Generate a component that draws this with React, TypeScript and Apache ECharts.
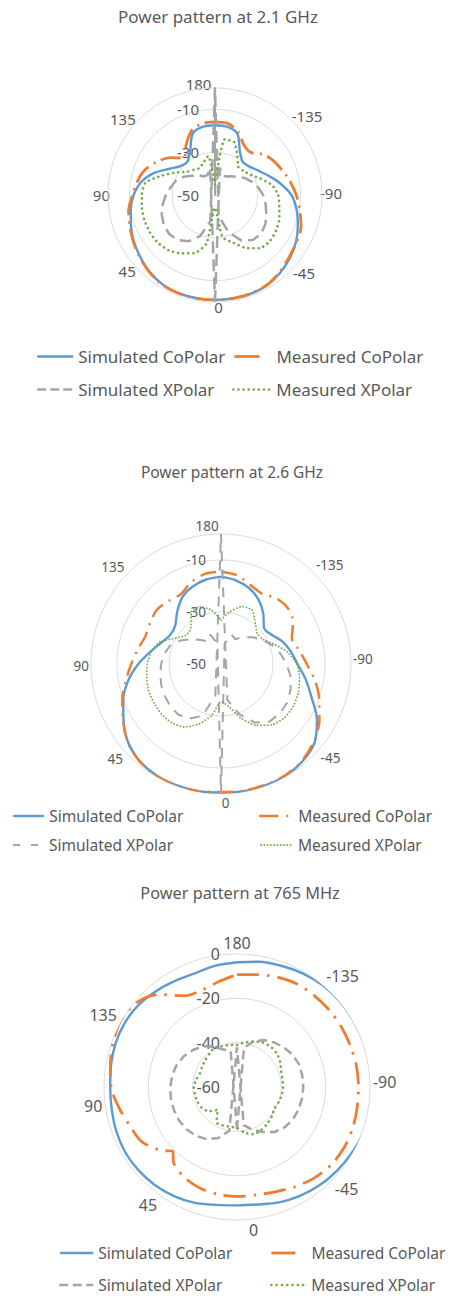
import React, { useEffect, useRef } from "react";
import * as echarts from "echarts";

const FONT = '"Noto Sans", "Open Sans", sans-serif';
const TEXT = "#595959";

// ---------- shared categories ----------
const SERIES_NAMES = ["Simulated CoPolar", "Measured CoPolar", "Simulated XPolar", "Measured XPolar"];
const ANGLES = [-180, -170, -160, -150, -140, -130, -120, -110, -100, -90, -80, -70, -60, -50, -40, -30, -20, -10, 0, 10, 20, 30, 40, 50, 60, 70, 80, 90, 100, 110, 120, 130, 140, 150, 160, 170, 180];
const ANGLES_765_MCO = [-180, -170, -160, -150, -140, -130, -120, -110, -100, -90, -80, -70, -60, -50, -40, -30, -20, -10, 0, 10, 20, 30, 40, 45, 50, 60, 70, 80, 90, 100, 110, 120, 130, 140, 150, 160, 170, 180];
const ANGLE_TICK_TEXT = ["180", "-135", "-90", "-45", "0", "45", "90", "135"];
const ANGLE_TICK_POS_21 = [171, -133, -91, -48, -2, 49, 90, 131];
const ANGLE_TICK_POS_26 = [174, -134, -92, -49, -2, 48, 89, 133];
const ANGLE_TICK_POS_765 = [180, -139, -92, -46, -7, 36, 82, 118];
const TITLES = ["Power pattern at 2.1 GHz", "Power pattern at 2.6 GHz", "Power pattern at 765 MHz"];

// ---------- 2.1 GHz (dB) ----------
const simCo21 = [-17.4, -17.6, -19.5, -26.7, -29.8, -29.2, -27.0, -23.5, -19.0, -14.3, -11.3, -8.8, -6.3, -4.3, -2.6, -1.3, -1.0, -1.0, -1.0, -1.0, -1.1, -1.5, -2.8, -4.6, -6.3, -8.2, -10.0, -12.0, -15.0, -19.8, -25.5, -29.0, -29.8, -26.7, -19.5, -17.6, -17.4];
const meaCo21 = [-15.8, -16.0, -18.5, -23.0, -24.0, -20.5, -18.3, -16.5, -14.3, -12.0, -9.8, -7.2, -6.0, -4.8, -3.0, -1.5, -1.0, -0.9, -1.0, -1.0, -1.0, -1.3, -2.6, -4.3, -6.0, -7.6, -9.0, -11.5, -13.2, -15.3, -18.8, -22.8, -27.5, -23.0, -18.0, -16.0, -15.8];
const simX21 = [-100, -37, -40, -40, -38.5, -36.8, -34, -31.8, -29.5, -27.5, -26, -24.5, -22.8, -21.9, -22.5, -25.5, -31.5, -40, -100, -37.5, -29.5, -25, -22.5, -21.9, -22.3, -23.5, -25.2, -27, -29, -30.5, -33, -36, -38, -40, -40, -37, -100];
const meaX21 = [-45, -23.5, -23.8, -29, -33, -32.5, -31, -27.5, -23, -20.5, -19.5, -18, -17, -16.5, -17.5, -21.5, -26.5, -30, -44, -27, -21, -18.5, -16.3, -15.2, -14.9, -15.0, -15.3, -15.8, -17, -23.5, -29, -33, -34.6, -35.5, -34, -31.5, -45];

// ---------- 2.6 GHz (dB) ----------
const simCo26 = [-16.4, -17.3, -18.8, -21.3, -24.7, -28.4, -27.5, -24.8, -22.7, -20.6, -17.0, -13.0, -7.4, -3.0, -1.2, -0.4, -0.3, -0.3, -0.6, -0.3, -0.3, -0.5, -1.3, -3.3, -6.7, -10.0, -13.8, -18.2, -22.5, -25.7, -27.5, -27.0, -23.8, -20.3, -18.3, -17.0, -16.4];
const meaCo26 = [-14.5, -15.3, -17.5, -18.7, -17.0, -16.5, -18.0, -21.0, -19.5, -17.0, -13.3, -9.8, -6.3, -3.5, -1.5, -0.6, -0.5, -0.5, -0.8, -0.3, -0.3, -0.4, -1.2, -3.2, -6.5, -9.6, -12.8, -15.5, -17.5, -19.0, -18.5, -17.7, -18.5, -19.0, -16.5, -14.8, -14.5];
const simX26 = [-100, -42, -38, -39, -36.5, -34, -31.5, -29, -26.8, -24.8, -22.8, -21.5, -20.5, -20.5, -21, -24, -29.5, -36, -100, -37.5, -28.7, -25.8, -24.5, -24.6, -25.1, -25.6, -26.2, -27, -27.8, -29.2, -32, -35, -38, -40, -38, -42, -100];
const meaX26 = [-33, -29.5, -26.5, -26, -29.5, -31.8, -31.2, -28, -24, -20.8, -19.3, -18.3, -17.8, -18, -19.5, -22.8, -28, -33.5, -35.5, -30, -25.5, -22, -20.5, -20.1, -20.2, -20.3, -21, -21.7, -22.8, -25, -30, -32.6, -32, -27, -26.5, -29, -33];

// ---------- 765 MHz (dB) ----------
const simCo765 = [-3.7, -2.6, -1.8, -0.8, 0.0, 0.3, 0.5, 0.7, 0.9, 1.0, 1.0, 0.7, -0.3, -1.2, -2.1, -3.3, -4.6, -6.2, -6.6, -6.0, -4.4, -3.2, -2.3, -1.8, -1.6, -2.0, -2.6, -2.8, -2.3, -1.8, -1.7, -2.2, -3.4, -4.6, -5.3, -4.4, -3.7];
const meaCo765 = [-9.3, -8.5, -7.2, -6.2, -6.0, -5.8, -5.7, -5.6, -5.3, -5.2, -5.0, -4.6, -4.5, -4.9, -6.2, -8.0, -9.7, -10.6, -10.6, -10.8, -11.4, -12.8, -15.5, -19.0, -15.5, -10.5, -8.6, -6.0, -3.2, -2.0, -0.6, 0.4, -0.8, -5.5, -12.5, -13.5, -11.8, -9.3];
const simX765 = [-79, -42, -38, -35.5, -33.8, -32.3, -31, -30.2, -30.1, -30.1, -30.2, -30.4, -30.9, -31.8, -33.5, -36.5, -39.5, -42.5, -78, -40, -35.5, -32.8, -31.2, -30.3, -29.8, -29.7, -29.7, -29.9, -30.3, -31, -32.3, -34, -36, -39, -42, -43.5, -79];
const meaX765 = [-41, -39.5, -38.2, -36.8, -36.3, -36.5, -37.5, -38.8, -39.2, -39.2, -39.5, -40, -40.5, -39.5, -38.6, -37.8, -37.3, -39, -41.5, -41.8, -41.5, -41.5, -46.5, -43, -41.5, -41, -40.8, -40.5, -41.3, -42.2, -41.8, -41.2, -40.6, -39.5, -40.4, -40.7, -41];

const BLUE = "#5B9BD5";
const ORANGE = "#ED7D31";
const GRAY = "#A5A5A5";
const GREEN = "#70AD47";

type Panel = {
  title: string;
  titleX: number;
  titleY: number;
  titleSize: number;
  center: [number, number];
  radius: number;
  rMin: number;
  rMax: number;
  labelSize: number;
  angleMargin: number;
  radiusMargin: number;
  axisLine: boolean;
  hideMax: boolean;
  tickPos: number[];
  curves: { angles: number[]; values: number[] }[];
  lineStyles: any[];
  smooth: number[];
  legendLineStyles: any[];
  legendRows: [number, number];
  legendItems: { left: number; width: number }[];
  legendSize: number;
};

const panels: Panel[] = [
  {
    title: TITLES[0], titleX: 218, titleY: 16, titleSize: 17,
    center: [215, 195], radius: 107, rMin: -50, rMax: 0,
    labelSize: 15, angleMargin: -2, radiusMargin: 16, axisLine: true, hideMax: true,
    tickPos: ANGLE_TICK_POS_21,
    curves: [
      { angles: ANGLES, values: simCo21 },
      { angles: ANGLES, values: meaCo21 },
      { angles: ANGLES, values: simX21 },
      { angles: ANGLES, values: meaX21 },
    ],
    lineStyles: [
      { color: BLUE, width: 2.4, type: "solid" },
      { color: ORANGE, width: 2.8, type: [20, 6, 2, 6] },
      { color: GRAY, width: 2.5, type: [12, 6] },
      { color: GREEN, width: 2.6, type: [0.1, 5], cap: "round" },
    ],
    smooth: [0.3, 0.3, 0, 0.2],
    legendLineStyles: [
      { type: "solid" },
      { type: [25, 20] },
      { type: [9, 4] },
      { type: [0.1, 5], cap: "round" },
    ],
    legendRows: [355, 388],
    legendItems: [
      { left: 36, width: 36 },
      { left: 233, width: 37 },
      { left: 36, width: 36 },
      { left: 232, width: 38 },
    ],
    legendSize: 17,
  },
  {
    title: TITLES[1], titleX: 232, titleY: 472, titleSize: 15.5,
    center: [221, 664], radius: 130, rMin: -50, rMax: 0,
    labelSize: 13.5, angleMargin: 2, radiusMargin: 15, axisLine: false, hideMax: true,
    tickPos: ANGLE_TICK_POS_26,
    curves: [
      { angles: ANGLES, values: simCo26 },
      { angles: ANGLES, values: meaCo26 },
      { angles: ANGLES, values: simX26 },
      { angles: ANGLES, values: meaX26 },
    ],
    lineStyles: [
      { color: BLUE, width: 2.4, type: "solid" },
      { color: ORANGE, width: 2.5, type: [16, 7, 2, 7] },
      { color: GRAY, width: 2.0, type: [10, 8] },
      { color: GREEN, width: 1.8, type: [0.1, 3.2], cap: "round" },
    ],
    smooth: [0.3, 0.3, 0, 0.2],
    legendLineStyles: [
      { type: "solid" },
      { type: [19, 8, 2, 20] },
      { type: [7, 11] },
      { type: [0.1, 3.2], cap: "round" },
    ],
    legendRows: [815, 844],
    legendItems: [
      { left: 12, width: 31 },
      { left: 258, width: 34 },
      { left: 12, width: 31 },
      { left: 260, width: 32 },
    ],
    legendSize: 15.5,
  },
  {
    title: TITLES[2], titleX: 240, titleY: 893, titleSize: 16.3,
    center: [237, 1087], radius: 133, rMin: -60, rMax: 0,
    labelSize: 16, angleMargin: 3, radiusMargin: 17, axisLine: false, hideMax: false,
    tickPos: ANGLE_TICK_POS_765,
    curves: [
      { angles: ANGLES, values: simCo765 },
      { angles: ANGLES_765_MCO, values: meaCo765 },
      { angles: ANGLES, values: simX765 },
      { angles: ANGLES, values: meaX765 },
    ],
    lineStyles: [
      { color: BLUE, width: 2.4, type: "solid" },
      { color: ORANGE, width: 2.8, type: [22, 8, 2.5, 8] },
      { color: GRAY, width: 2.5, type: [9, 5] },
      { color: GREEN, width: 2.6, type: [0.1, 5.2], cap: "round" },
    ],
    smooth: [0.3, 0.3, 0, 0.2],
    legendLineStyles: [
      { type: "solid" },
      { type: [24, 20] },
      { type: [9, 4.5] },
      { type: [0.1, 5.2], cap: "round" },
    ],
    legendRows: [1252, 1284],
    legendItems: [
      { left: 59, width: 33 },
      { left: 270, width: 35 },
      { left: 58, width: 34 },
      { left: 270, width: 35 },
    ],
    legendSize: 15.5,
  },
];

function buildOption() {
  const title: any[] = [];
  const polar: any[] = [];
  const angleAxis: any[] = [];
  const radiusAxis: any[] = [];
  const series: any[] = [];
  const legend: any[] = [];

  panels.forEach((p, i) => {
    title.push({
      text: p.title,
      left: p.titleX,
      top: p.titleY,
      textAlign: "center",
      textVerticalAlign: "middle",
      padding: 0,
      textStyle: { fontSize: p.titleSize, fontWeight: "normal", color: TEXT, fontFamily: FONT },
    });
    polar.push({ center: p.center, radius: p.radius });
    const tickPos = p.tickPos;
    angleAxis.push({
      polarIndex: i,
      type: "value",
      min: -180,
      max: 180,
      interval: 45,
      startAngle: 90,
      clockwise: true,
      axisLine: { show: false },
      axisTick: { show: false },
      splitLine: { show: false },
      axisLabel: {
        show: true,
        margin: p.angleMargin,
        fontSize: p.labelSize,
        color: TEXT,
        fontFamily: FONT,
        customValues: tickPos,
        formatter: (v: number) => {
          const k = tickPos.findIndex((t) => Math.abs(t - v) < 0.01);
          if (k >= 0) return ANGLE_TICK_TEXT[k];
          return v === -180 ? "" : String(v);
        },
      },
    });
    radiusAxis.push({
      polarIndex: i,
      type: "value",
      min: p.rMin,
      max: p.rMax,
      interval: 20,
      axisLine: { show: p.axisLine, lineStyle: { color: GRAY, width: 2 } },
      axisTick: { show: false },
      splitLine: { show: true, lineStyle: { color: "#DCDCDC", width: 1 } },
      axisLabel: {
        margin: p.radiusMargin,
        fontSize: p.labelSize,
        color: TEXT,
        fontFamily: FONT,
        formatter: (v: number) => (p.hideMax && v === p.rMax ? "" : String(v)),
      },
      z: 1,
    });
    p.curves.forEach((c, s) => {
      series.push({
        name: SERIES_NAMES[s],
        type: "line",
        coordinateSystem: "polar",
        polarIndex: i,
        symbol: "none",
        showSymbol: false,
        smooth: p.smooth[s],
        clip: false,
        silent: true,
        lineStyle: p.lineStyles[s],
        itemStyle: { color: p.lineStyles[s].color },
        data: c.angles.map((a, k) => [c.values[k], a]),
        z: 2 + s,
      });
    });
    p.legendItems.forEach((it, s) => {
      const row = s < 2 ? p.legendRows[0] : p.legendRows[1];
      legend.push({
        left: it.left,
        top: row - 7,
        padding: 0,
        itemWidth: it.width,
        itemHeight: 14,
        selectedMode: false,
        textStyle: { fontSize: p.legendSize, color: TEXT, fontFamily: FONT },
        data: [
          {
            name: SERIES_NAMES[s],
            itemStyle: { opacity: 0, color: "transparent", borderWidth: 0 },
            lineStyle: { ...p.legendLineStyles[s], color: p.lineStyles[s].color, width: p.lineStyles[s].width },
          },
        ],
      });
    });
  });

  return {
    animation: false,
    backgroundColor: "#ffffff",
    textStyle: { fontFamily: FONT },
    title,
    polar,
    angleAxis,
    radiusAxis,
    legend,
    series,
  };
}

export default function App() {
  const ref = useRef<HTMLDivElement>(null);
  useEffect(() => {
    document.body.style.margin = "0";
    if (!ref.current) return;
    const chart = echarts.init(ref.current, null, { renderer: "svg", width: 449, height: 1296 });
    chart.setOption(buildOption() as any);
    return () => chart.dispose();
  }, []);
  return <div ref={ref} style={{ width: 449, height: 1296, background: "#fff" }} />;
}
